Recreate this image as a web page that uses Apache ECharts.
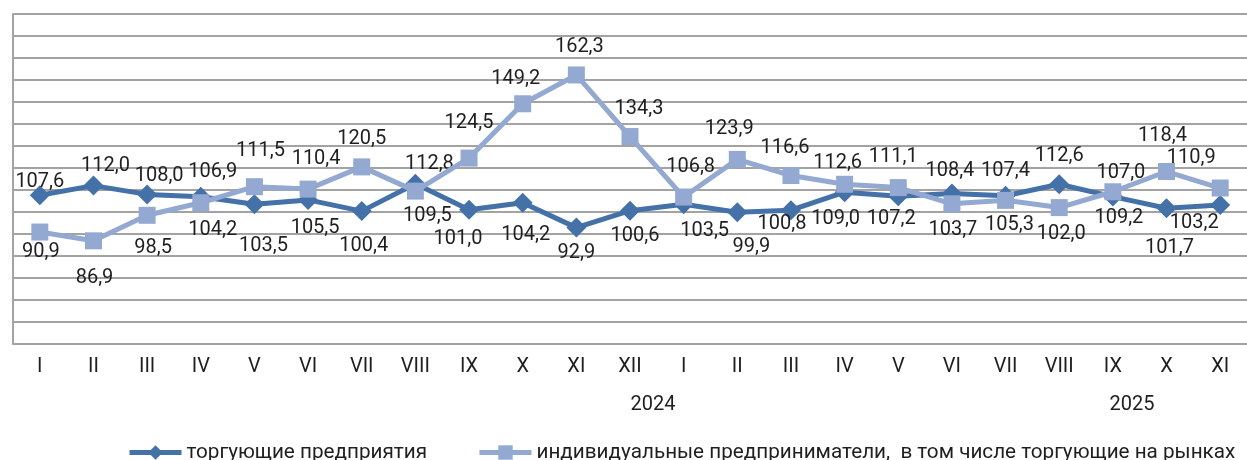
<!DOCTYPE html>
<html>
<head>
<meta charset="utf-8">
<script src="https://cdn.jsdelivr.net/npm/echarts@6/dist/echarts.min.js"></script>
<style>
html,body{margin:0;padding:0;background:#fff;}
#chart{width:1247px;height:460px;}
</style>
</head>
<body>
<div id="chart"></div>
<script>
// ---- data ----
var categories = ['I','II','III','IV','V','VI','VII','VIII','IX','X','XI','XII',
                  'I ','II ','III ','IV ','V ','VI ','VII ','VIII ','IX ','X ','XI '];
var monthLabels = ['I','II','III','IV','V','VI','VII','VIII','IX','X','XI','XII',
                   'I','II','III','IV','V','VI','VII','VIII','IX','X','XI'];
var tradingEnterprises = [107.6,112.0,108.0,106.9,103.5,105.5,100.4,112.8,101.0,104.2,92.9,100.6,
                          103.5,99.9,100.8,109.0,107.2,108.4,107.4,112.6,107.0,101.7,103.2];
var individualEntrepreneurs = [90.9,86.9,98.5,104.2,111.5,110.4,120.5,109.5,124.5,149.2,162.3,134.3,
                               106.8,123.9,116.6,112.6,111.1,103.7,105.3,102.0,109.2,118.4,110.9];
var yearLabels = ['2024','2025'];
var seriesNames = ['торгующие предприятия','индивидуальные предприниматели,  в том числе торгующие на рынках'];

// ---- label layout (style only) ----
var darkLabelOffsets = [[0,-13],[12,-20],[12,-18],[12,-25],[9,42],[7,28],[2,35],[14,-20],[-11,29],[3,32],[0,25],[5,25],
                        [21,27],[14,35],[-9,14],[-9,27],[-7,23],[-2,-23],[0,-25],[0,-28],[8,-24],[3,40],[-26,18]];
var lightLabelOffsets = [[1,20],[1,37],[6,33],[12,27],[6,-36],[8,-30],[0,-28],[12,25],[0,-35],[-7,-25],[3,-28],[9,-28],
                         [7,-30],[-8,-30],[-6,-27],[-7,-21],[-5,-31],[1,26],[4,25],[2,26],[6,26],[-4,-36],[-29,-30]];

var DARK = '#4471A7';
var LIGHT = '#93A9D1';
var GRID = '#A3A3A3';
var TXT = '#1f1f1f';
var FS = 20;

function fmt(v){ return v.toFixed(1).replace('.', ','); }

function buildData(values, offsets){
  return values.map(function(v,i){
    return {value: v, label: {offset: offsets[i]}};
  });
}

var legendBase = {
  top: 442, width: 900, padding: 0,
  itemWidth: 52, itemHeight: 18,
  textStyle: {fontSize: 20.7, color: TXT, fontFamily: 'Roboto'},
  lineStyle: {width: 5}
};

var chart = echarts.init(document.getElementById('chart'), null, {renderer:'canvas'});
var option = {
  animation: false,
  backgroundColor: '#fff',
  textStyle: {fontFamily: 'Roboto'},
  grid: {left: 13, top: 14, width: 1242, height: 330, containLabel: false},
  xAxis: {
    type: 'category',
    data: categories,
    boundaryGap: true,
    axisLine: {show: false},
    axisTick: {show: false},
    axisLabel: {
      margin: 13, fontSize: FS, color: TXT, fontFamily: 'Roboto', interval: 0,
      formatter: function(v, i){ return monthLabels[i]; }
    },
    splitLine: {show: false}
  },
  yAxis: {
    type: 'value',
    min: 40, max: 190, interval: 10,
    axisLabel: {show: false},
    axisTick: {show: false},
    axisLine: {show: true, lineStyle: {color: GRID, width: 2}},
    splitLine: {show: true, lineStyle: {color: GRID, width: 2}}
  },
  legend: [
    Object.assign({}, legendBase, {left: 127, data: [seriesNames[0]]}),
    Object.assign({}, legendBase, {left: 477, data: [seriesNames[1]]})
  ],
  graphic: [
    {type: 'text', x: 653, y: 405,
     style: {text: yearLabels[0], fontSize: FS, fontFamily: 'Roboto', fill: TXT, align: 'center', verticalAlign: 'middle'}},
    {type: 'text', x: 1132, y: 405,
     style: {text: yearLabels[1], fontSize: FS, fontFamily: 'Roboto', fill: TXT, align: 'center', verticalAlign: 'middle'}}
  ],
  series: [
    {
      name: seriesNames[0], type: 'line',
      data: buildData(tradingEnterprises, darkLabelOffsets),
      symbol: 'diamond', symbolSize: 20,
      lineStyle: {color: DARK, width: 5},
      itemStyle: {color: DARK},
      label: {show: true, position: 'inside', fontSize: FS, color: TXT, fontFamily: 'Roboto',
              formatter: function(p){ return fmt(p.value); }},
      z: 2
    },
    {
      name: seriesNames[1], type: 'line',
      data: buildData(individualEntrepreneurs, lightLabelOffsets),
      symbol: 'rect', symbolSize: 17,
      lineStyle: {color: LIGHT, width: 5},
      itemStyle: {color: LIGHT},
      label: {show: true, position: 'inside', fontSize: FS, color: TXT, fontFamily: 'Roboto',
              formatter: function(p){ return fmt(p.value); }},
      z: 3
    }
  ]
};
chart.setOption(option);
</script>
</body>
</html>
